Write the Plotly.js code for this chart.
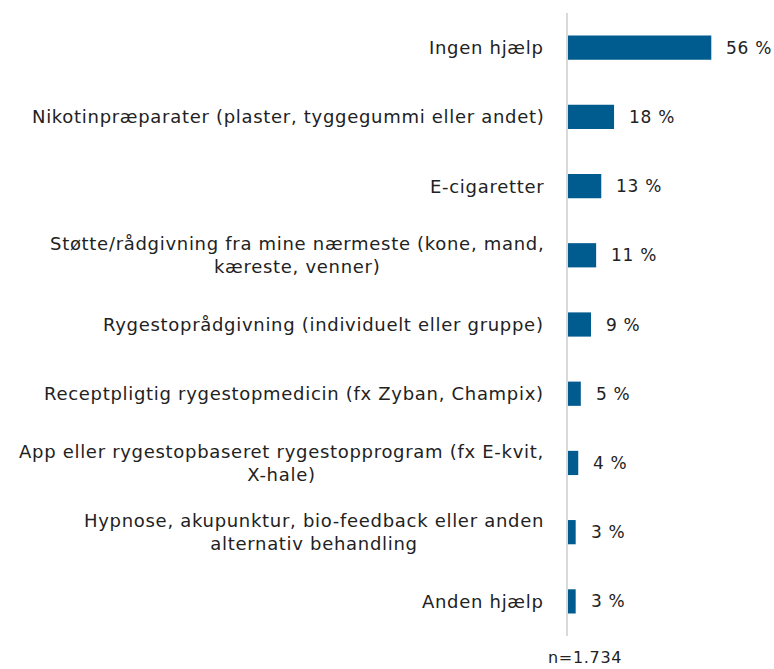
<!DOCTYPE html>
<html><head><meta charset="utf-8">
<script src="https://cdn.plot.ly/plotly-3.0.1.min.js"></script>
<style>html,body{margin:0;padding:0;background:#fff} svg text{letter-spacing:0.7px}</style>
</head><body><div id="chart" style="width:774px;height:669px"></div>
<script>
const categories = [
  "Ingen hjælp",
  "Nikotinpræparater (plaster, tyggegummi eller andet)",
  "E-cigaretter",
  "Støtte/rådgivning fra mine nærmeste (kone, mand,<br>kæreste, venner)",
  "Rygestoprådgivning (individuelt eller gruppe)",
  "Receptpligtig rygestopmedicin (fx Zyban, Champix)",
  "App eller rygestopbaseret rygestopprogram (fx E-kvit,<br>X-hale)",
  "Hypnose, akupunktur, bio-feedback eller anden<br>alternativ behandling",
  "Anden hjælp"
];
const values = [56, 18, 13, 11, 9, 5, 4, 3, 3];
const valueLabels = values.map(v => v + " %");
const note = "n=1.734";

const font = "'DejaVu Sans', sans-serif";
const annotations = [];
categories.forEach((c, i) => {
  annotations.push({x: 0, y: i, xref: 'x', yref: 'y', text: c, showarrow: false,
    xanchor: 'right', yanchor: 'middle', align: 'center', xshift: -22,
    font: {family: font, size: 18, color: '#222222'}});
  annotations.push({x: values[i], y: i, xref: 'x', yref: 'y', text: valueLabels[i], showarrow: false,
    xanchor: 'left', yanchor: 'middle', xshift: 13,
    font: {family: font, size: 17, color: '#222222'}});
});
annotations.push({x: 0, y: 0, xref: 'x', yref: 'paper', text: note, showarrow: false,
  xanchor: 'center', yanchor: 'top', xshift: 17, yshift: -10,
  font: {family: font, size: 16, color: '#222222'}});

Plotly.newPlot('chart', [{
  type: 'bar', orientation: 'h',
  x: values, y: categories.map((c, i) => i),
  marker: {color: '#005b8e'},
  hoverinfo: 'none'
}], {
  width: 774, height: 669,
  margin: {l: 568, r: 0, t: 13, b: 33},
  bargap: 0.65,
  showlegend: false,
  paper_bgcolor: '#fff', plot_bgcolor: '#fff',
  xaxis: {range: [0, 80.5], showgrid: false, zeroline: false, showticklabels: false, showline: false, ticks: ''},
  yaxis: {autorange: 'reversed', showgrid: false, zeroline: false, showticklabels: false,
    showline: true, linecolor: '#d9d9d9', linewidth: 2, ticks: ''},
  annotations: annotations
}, {staticPlot: true});
</script></body></html>
